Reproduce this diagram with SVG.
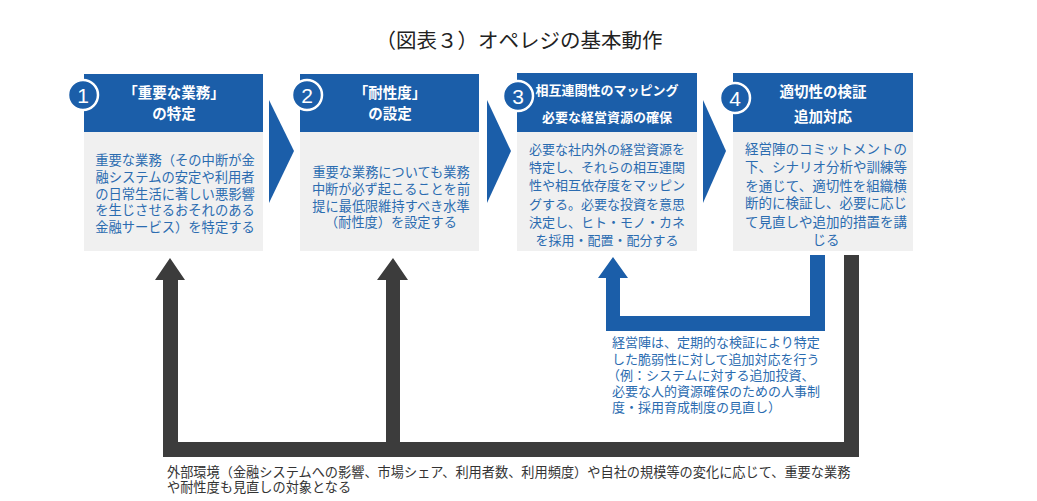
<svg xmlns="http://www.w3.org/2000/svg" width="1037" height="501" viewBox="0 0 1037 501">
<style>
text{font-family:"Noto Sans CJK JP","Noto Sans",sans-serif}
.hdr{fill:#1b5ea9}
.body{fill:#f0f0f0}
.ht{fill:#fff;font-weight:bold;text-anchor:middle}
.bt{fill:#2b6cb0;text-anchor:middle}
.num{fill:#1b5ea9;stroke:#fff;stroke-width:2.5}
.nt{fill:#fff;font-family:"Liberation Sans",Arial,sans-serif;font-size:21px;text-anchor:middle}
.chev{fill:#1b5ea9}
.dark{fill:#3c3c3c}
.blue{fill:#1b5ea9}
</style>
<rect width="1037" height="501" fill="#fff"/>
<text x="519" y="48" font-size="20.5" fill="#222" text-anchor="middle">（図表３）オペレジの基本動作</text>

<g id="node1">
<rect class="body" x="84" y="131" width="179" height="120"/>
<rect class="hdr" x="84" y="74" width="179" height="58"/>
<text class="ht" font-size="14.5" x="174" y="98">「重要な業務」</text>
<text class="ht" font-size="14.5" x="174" y="119">の特定</text>
<g class="bt" font-size="13.3">
<text x="175" y="165">重要な業務（その中断が金</text>
<text x="175" y="182">融システムの安定や利用者</text>
<text x="175" y="198.5">の日常生活に著しい悪影響</text>
<text x="175" y="215">を生じさせるおそれのある</text>
<text x="175" y="231.5">金融サービス）を特定する</text>
</g>
<circle class="num" cx="83" cy="95" r="15"/>
<text class="nt" x="83" y="102.5">1</text>
</g>

<g id="node2">
<rect class="body" x="300" y="131" width="179" height="120"/>
<rect class="hdr" x="300" y="74" width="179" height="58"/>
<text class="ht" font-size="14.5" x="390" y="98">「耐性度」</text>
<text class="ht" font-size="14.5" x="390" y="119">の設定</text>
<g class="bt" font-size="13.2">
<text x="391" y="176.5">重要な業務についても業務</text>
<text x="391" y="193.5">中断が必ず起こることを前</text>
<text x="391" y="211">提に最低限維持すべき水準</text>
<text x="391" y="227">（耐性度）を設定する</text>
</g>
<circle class="num" cx="307" cy="95" r="15"/>
<text class="nt" x="307" y="102.5">2</text>
</g>

<g id="node3">
<rect class="body" x="517" y="131" width="180" height="120"/>
<rect class="hdr" x="517" y="73" width="180" height="59"/>
<text class="ht" font-size="13" x="607" y="95">相互連関性のマッピング</text>
<text class="ht" font-size="13" x="607" y="122">必要な経営資源の確保</text>
<g class="bt" font-size="13">
<text x="607" y="153.5">必要な社内外の経営資源を</text>
<text x="607" y="172">特定し、それらの相互連関</text>
<text x="607" y="190">性や相互依存度をマッピン</text>
<text x="607" y="208.5">グする。必要な投資を意思</text>
<text x="607" y="227">決定し、ヒト・モノ・カネ</text>
<text x="607" y="245">を採用・配置・配分する</text>
</g>
<circle class="num" cx="518" cy="96" r="15"/>
<text class="nt" x="518" y="103.5">3</text>
</g>

<g id="node4">
<rect class="body" x="733" y="131" width="180" height="120"/>
<rect class="hdr" x="733" y="73" width="180" height="59"/>
<text class="ht" font-size="14.5" x="823" y="97">適切性の検証</text>
<text class="ht" font-size="14.5" x="823" y="122">追加対応</text>
<g class="bt" font-size="13.5">
<text x="826" y="154">経営陣のコミットメントの</text>
<text x="826" y="171.5">下、シナリオ分析や訓練等</text>
<text x="826" y="190.5">を通じて、適切性を組織横</text>
<text x="826" y="208">断的に検証し、必要に応じ</text>
<text x="826" y="227">て見直しや追加的措置を講</text>
<text x="826" y="244.5">じる</text>
</g>
<circle class="num" cx="735" cy="98" r="15"/>
<text class="nt" x="735" y="105.5">4</text>
</g>

<g id="connectors">
<polygon class="chev" points="269,100 294,151 269,203"/>
<polygon class="chev" points="487,100 511,151 487,203"/>
<polygon class="chev" points="703,100 726,151 703,203"/>

<path class="blue" d="M810,255 H825 V331 H606 V278 H598 L613,257 L628,278 H620 V316 H810 Z"/>

<path class="dark" d="M844,255 H859 V457 H163 V280 H155 L170,258 L185,280 H178 V442 H386 V280 H377 L393,258 L408,280 H400 V442 H844 Z"/>
</g>

<g id="note-blue" fill="#2b6cb0" font-size="13">
<text x="612" y="347">経営陣は、定期的な検証により特定</text>
<text x="612" y="363.5">した脆弱性に対して追加対応を行う</text>
<text x="607" y="380">（例：システムに対する追加投資、</text>
<text x="612" y="396">必要な人的資源確保のための人事制</text>
<text x="612" y="412">度・採用育成制度の見直し）</text>
</g>

<g id="note-bottom" fill="#333" font-size="13.2">
<text x="167" y="477">外部環境（金融システムへの影響、市場シェア、利用者数、利用頻度）や自社の規模等の変化に応じて、重要な業務</text>
<text x="167" y="491.5">や耐性度も見直しの対象となる</text>
</g>
</svg>
